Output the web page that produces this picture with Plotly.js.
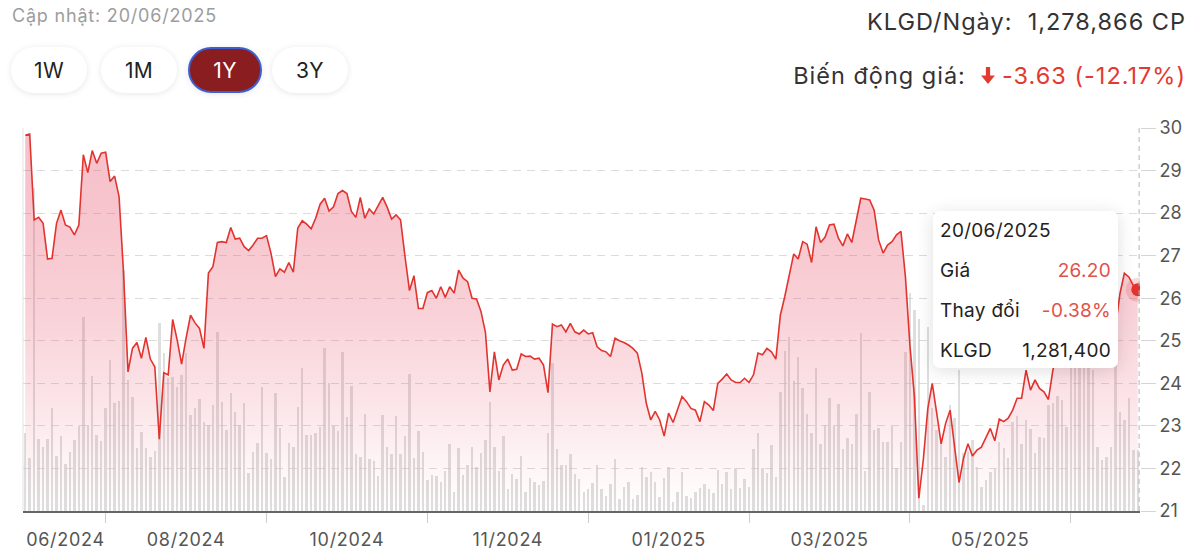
<!DOCTYPE html>
<html>
<head>
<meta charset="utf-8">
<script src="https://cdn.plot.ly/plotly-3.0.1.min.js"></script>
<style>
html,body{margin:0;padding:0;background:#fff;}
body{width:1200px;height:552px;position:relative;overflow:hidden;font-family:Inter,'Noto Sans',sans-serif;}
#chart{position:absolute;left:0;top:0;width:1200px;height:552px;}
#chart .x2tick text{letter-spacing:0.7px;}
.upd{position:absolute;left:12px;top:3px;font-size:18px;line-height:26px;color:#9d9d9d;letter-spacing:0.8px;}
.btn{position:absolute;top:47px;height:46px;width:76px;border-radius:23px;background:#fff;box-shadow:0 1px 6px rgba(0,0,0,0.10);display:flex;align-items:center;justify-content:center;font-size:21px;color:#222;box-sizing:border-box;letter-spacing:0.3px;}
.btn.active{background:#8a1d20;color:#fff;border:2px solid #3f5fcf;}
.hdr{position:absolute;right:14px;font-size:23.5px;line-height:28px;color:#333;white-space:pre;letter-spacing:1px;}
.red{color:#e23a31;}
.tip{position:absolute;left:933px;top:211px;width:185px;height:157px;background:#fff;border-radius:7px;box-shadow:0 3px 18px rgba(0,0,0,0.13);box-sizing:border-box;font-size:19px;color:#222;letter-spacing:0.3px;}
.tip .row{position:absolute;left:7px;right:7px;height:26px;line-height:26px;display:flex;justify-content:space-between;}
.tip .red{color:#e0524a;}
</style>
</head>
<body>
<div id="chart"></div>
<div class="upd" id="upd"></div>
<div class="btn" style="left:11px;">1W</div>
<div class="btn" style="left:101px;">1M</div>
<div class="btn active" style="left:188px;width:74px;">1Y</div>
<div class="btn" style="left:272px;">3Y</div>
<div class="hdr" style="top:8px;" id="klgd"></div>
<div class="hdr" style="top:62px;" id="bd"></div>
<div class="tip" id="tip"></div>
<script>
// ---- data ----
const lastDate = '20/06/2025';
const monthLabels = ['06/2024','08/2024','10/2024','11/2024','01/2025','03/2025','05/2025'];
const labelPos = [9, 36, 72, 108, 144, 180, 216];
const tickPos = [18, 54, 90, 126, 162, 198, 234];
const avgVolumeText = '1,278,866';

const prices = [
29.83,29.86,27.84,27.90,27.76,26.92,26.94,27.76,28.07,27.72,
27.67,27.49,27.72,29.37,28.95,29.47,29.17,29.41,29.43,28.74,
28.87,28.39,26.60,24.27,24.82,24.96,24.59,25.08,24.57,24.39,
22.69,24.25,24.20,25.50,25.02,24.45,25.06,25.60,25.42,25.29,
24.82,26.59,26.74,27.31,27.33,27.31,27.66,27.39,27.41,27.21,
27.12,27.25,27.41,27.41,27.47,27.06,26.51,26.69,26.61,26.84,
26.61,27.65,27.82,27.74,27.63,27.88,28.21,28.35,28.05,28.15,
28.46,28.53,28.46,28.04,27.90,28.37,27.88,28.10,27.98,28.19,
28.37,28.14,27.86,27.96,27.84,26.98,26.18,26.53,25.76,25.76,
26.13,26.18,26.00,26.27,26.02,26.27,26.12,26.66,26.47,26.39,
26.00,25.98,25.69,25.20,23.80,24.74,24.08,24.43,24.57,24.31,
24.33,24.69,24.63,24.64,24.57,24.59,24.43,23.78,25.39,25.33,
25.37,25.21,25.41,25.21,25.16,25.25,25.16,25.19,24.86,24.77,
24.74,24.63,25.06,25.00,24.96,24.90,24.82,24.71,24.24,23.53,
23.14,23.34,23.14,22.76,23.30,23.08,23.37,23.69,23.57,23.41,
23.37,23.10,23.57,23.49,23.36,24.00,24.10,24.22,24.08,24.02,
24.02,24.12,24.02,24.20,24.71,24.67,24.82,24.74,24.57,25.60,
26.04,26.51,27.04,26.92,27.33,27.27,26.84,27.68,27.31,27.43,
27.72,27.74,27.41,27.23,27.51,27.31,27.80,28.35,28.33,28.31,
28.07,27.37,27.06,27.25,27.33,27.49,27.57,26.50,24.90,23.70,
21.30,22.20,23.40,24.00,23.30,22.58,23.06,23.37,22.51,21.67,
22.24,22.58,22.29,22.43,22.50,22.71,22.94,22.65,23.16,23.10,
23.18,23.37,23.65,23.65,24.31,23.84,24.08,23.88,23.80,23.62,
24.31,24.70,25.00,24.80,25.20,25.50,25.30,25.70,25.90,25.60,
25.80,26.10,25.90,25.60,25.30,26.10,26.59,26.50,26.30,26.20
];

const volumes = [
1644000,1107000,6783000,1506000,1350000,1506000,2157000,1155000,1575000,987000,
1245000,1491000,1785000,4080000,1806000,2835000,1596000,1476000,2157000,3171000,
2262000,2310000,5061000,2751000,2400000,1323000,1665000,1323000,1140000,1266000,
3942000,3318000,2793000,2820000,2610000,2856000,3318000,2016000,2157000,2346000,
1875000,1806000,2226000,3765000,2295000,1701000,2472000,2085000,1806000,2274000,
804000,1245000,1434000,2610000,1224000,1086000,2472000,1737000,708000,1434000,
1338000,2178000,2997000,1596000,1596000,1638000,1770000,3417000,2694000,1785000,
1686000,3345000,1980000,2625000,1197000,1140000,2037000,1086000,1056000,735000,
2016000,1338000,1197000,1995000,1197000,1575000,2877000,1107000,1686000,1245000,
651000,756000,735000,603000,846000,1407000,405000,1329000,756000,966000,
1350000,918000,1212000,1491000,2295000,1350000,846000,1575000,456000,777000,
666000,1155000,405000,687000,615000,546000,636000,1644000,3102000,1296000,
966000,966000,1197000,777000,666000,405000,456000,582000,966000,456000,
321000,561000,1086000,246000,498000,609000,252000,336000,930000,720000,
825000,603000,300000,693000,930000,189000,405000,825000,315000,279000,
405000,477000,567000,462000,372000,861000,567000,825000,456000,909000,
483000,672000,510000,1302000,1632000,897000,792000,1386000,720000,2505000,
3366000,3648000,2730000,3228000,2577000,2037000,1644000,2997000,1401000,1806000,
2367000,1806000,2247000,1302000,1527000,1407000,2031000,3744000,840000,2505000,
1701000,1737000,1455000,1455000,1785000,909000,1443000,3345000,4584000,4221000,
4026000,126000,3870000,2163000,1701000,1428000,1140000,2226000,1947000,2961000,
1212000,1245000,1491000,930000,510000,651000,825000,876000,1455000,1317000,
1107000,1875000,1995000,1407000,1911000,1716000,1212000,1560000,1527000,2226000,
2274000,2415000,2331000,1770000,3240000,3108000,3318000,3030000,3171000,2961000,
1338000,1071000,1140000,1350000,3801000,2085000,1911000,2367000,1281000,1281400
];

// ---- build ----
const idx = prices.map((_, i) => i);
const last = prices.length - 1;
const lineColor = '#e2342f';

const traces = [
  {type:'bar', x:idx, y:volumes, xaxis:'x', yaxis:'y', width:0.55,
   marker:{color:'rgba(200,200,200,0.6)', line:{width:0}}, hoverinfo:'skip'},
  {type:'scatter', mode:'lines', x:idx, y:prices, xaxis:'x2', yaxis:'y2',
   line:{color:lineColor, width:1.6, shape:'linear'},
   fill:'tozeroy',
   fillgradient:{type:'vertical', start:21, stop:30,
     colorscale:[[0,'rgba(232,85,110,0)'],[0.08,'rgba(232,85,110,0.04)'],[0.29,'rgba(232,85,110,0.16)'],[0.55,'rgba(232,85,110,0.28)'],[0.81,'rgba(232,85,110,0.35)'],[1,'rgba(232,85,110,0.37)']]},
   hoverinfo:'skip'},
  {type:'scatter', mode:'markers', x:[idx[last]], y:[prices[last]], xaxis:'x2', yaxis:'y2',
   marker:{size:24, color:'rgba(226,52,47,0.18)'}, hoverinfo:'skip'},
  {type:'scatter', mode:'markers', x:[idx[last]], y:[prices[last]], xaxis:'x2', yaxis:'y2',
   marker:{size:13, color:lineColor}, hoverinfo:'skip'}
];

const xr = [-0.5, prices.length - 0.5];
const layout = {
  width:1200, height:552,
  margin:{l:23, r:60, t:128, b:41, pad:0},
  paper_bgcolor:'rgba(0,0,0,0)', plot_bgcolor:'rgba(0,0,0,0)',
  showlegend:false, bargap:0,
  font:{family:'Inter, sans-serif', color:'#555', size:18},
  xaxis:{range:xr, tickmode:'array', tickvals:tickPos, ticktext:tickPos.map(()=>''),
    ticks:'outside', ticklen:10, tickcolor:'#cccccc', tickwidth:1,
    showline:true, linecolor:'#666', linewidth:1.5, showgrid:false, zeroline:false, fixedrange:true},
  xaxis2:{overlaying:'x', range:xr, tickmode:'array', tickvals:labelPos, ticktext:monthLabels,
    ticks:'outside', ticklen:12, tickcolor:'rgba(0,0,0,0)', showline:false, showgrid:false, zeroline:false,
    side:'bottom', tickfont:{size:18, color:'#555'}, fixedrange:true},
  yaxis:{range:[0, 8050000], visible:false, fixedrange:true},
  yaxis2:{overlaying:'y', side:'right', range:[21,30], tickmode:'linear', tick0:21, dtick:1,
    showgrid:true, gridcolor:'#dcdcdc', griddash:'8px,6px', gridwidth:1,
    ticks:'outside', ticklen:15, tickcolor:'#d5d5d5', tickfont:{size:18, color:'#555'},
    zeroline:false, showline:false, fixedrange:true},
  shapes:[
    {type:'line', xref:'paper', yref:'paper', x0:0, x1:0, y0:0, y1:1, line:{color:'#e4e4e4', width:1}, layer:'below'},
    {type:'line', xref:'x2', yref:'paper', x0:idx[last]+0.3, x1:idx[last]+0.3, y0:0, y1:1, line:{color:'#b5b5b5', width:1, dash:'5px,4px'}}
  ]
};

Plotly.newPlot('chart', traces, layout, {staticPlot:true, displayModeBar:false});

// ---- header & tooltip texts ----
const fmt = n => n.toLocaleString('en-US');
const chg = prices[last] - prices[0];
const chgPct = chg / prices[0] * 100;
document.getElementById('upd').textContent = 'Cập nhật: ' + lastDate;
document.getElementById('klgd').innerHTML = 'KLGD/Ngày:  ' + avgVolumeText + ' CP';
const arrow = '<svg width="14" height="18" viewBox="0 0 13 17" style="vertical-align:-1px;margin-right:7px"><rect x="4.5" y="0" width="4" height="9" fill="#e23a31"/><polygon points="0,8 13,8 6.5,16" fill="#e23a31"/></svg>';
document.getElementById('bd').innerHTML = 'Biến động giá:  ' + '<span class="red">' + arrow + chg.toFixed(2) + ' (' + chgPct.toFixed(2) + '%)</span>';
const dayPct = (prices[last] / prices[last-1] - 1) * 100;
document.getElementById('tip').innerHTML =
  '<div class="row" style="top:7px"><span>' + lastDate + '</span></div>' +
  '<div class="row" style="top:47px"><span>Giá</span><span class="red">' + prices[last].toFixed(2) + '</span></div>' +
  '<div class="row" style="top:87px"><span>Thay đổi</span><span class="red">' + dayPct.toFixed(2) + '%</span></div>' +
  '<div class="row" style="top:127px"><span>KLGD</span><span>' + fmt(volumes[last]) + '</span></div>';
</script>
</body>
</html>
